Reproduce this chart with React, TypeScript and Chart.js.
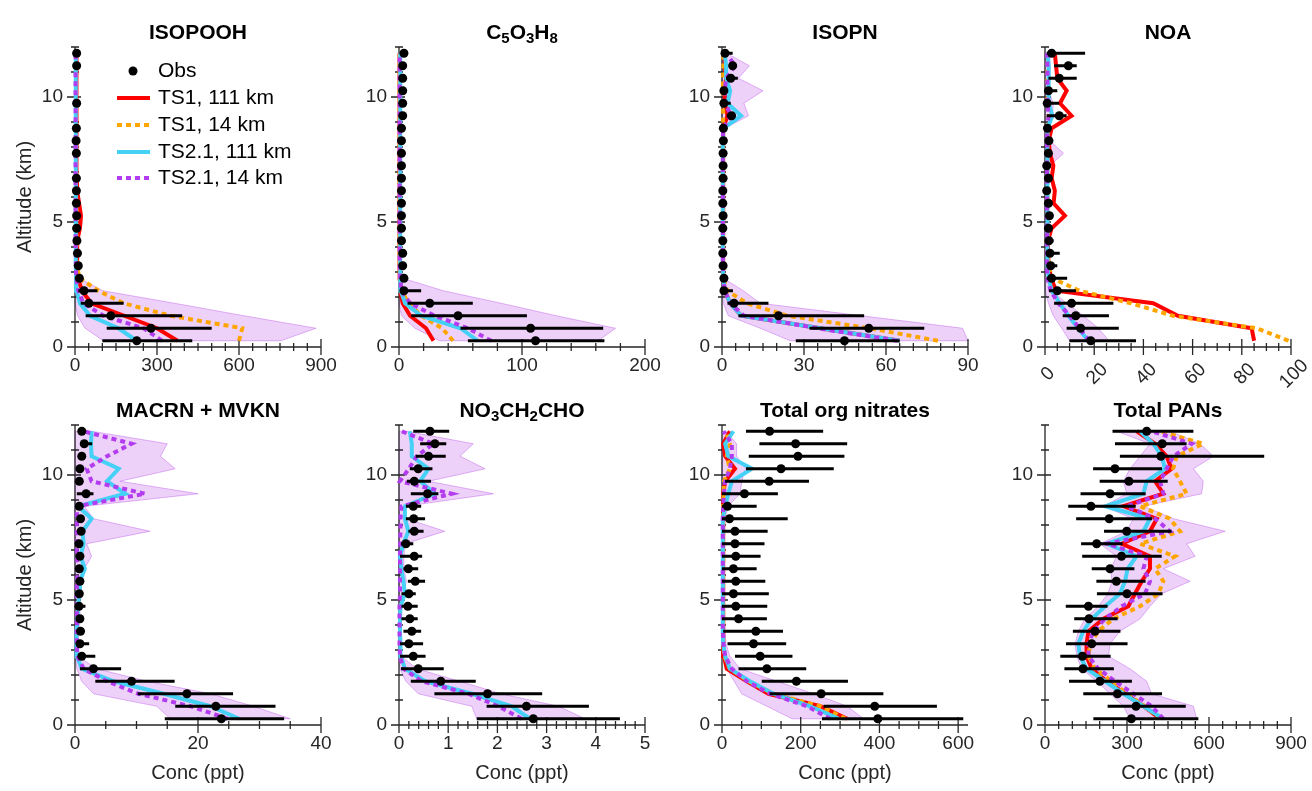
import React, { useEffect, useRef } from 'react';
import { Chart, registerables } from 'chart.js';

Chart.register(...registerables);

// ---------- shared axes ----------
const ALT = [0.25, 0.75, 1.25, 1.75, 2.25, 2.75, 3.25, 3.75, 4.25, 4.75, 5.25, 5.75, 6.25, 6.75, 7.25, 7.75, 8.25, 8.75, 9.25, 9.75, 10.25, 10.75, 11.25, 11.75];
const Y_TICKS = [0, 1, 2, 3, 4, 5, 6, 7, 8, 9, 10, 11, 12];
const Y_LABELS = [0, 5, 10];
const LEGEND_LABELS = ['Obs', 'TS1, 111 km', 'TS1, 14 km', 'TS2.1, 111 km', 'TS2.1, 14 km'];

// x tick labels per panel
const ISOPOOH_XLABELS = [0, 300, 600, 900];
const C5_XLABELS = [0, 100, 200];
const ISOPN_XLABELS = [0, 30, 60, 90];
const NOA_XLABELS = [0, 20, 40, 60, 80, 100];
const MAC_XLABELS = [0, 20, 40];
const NO3_XLABELS = [0, 1, 2, 3, 4, 5];
const ORG_XLABELS = [0, 200, 400, 600];
const PAN_XLABELS = [0, 300, 600, 900];

// ---------- ISOPOOH ----------
const ISOPOOH_OBS = [226, 278, 131, 51, 33, 16, 12, 9, 7, 6, 6, 5, 5, 5, null, 5, 4, 5, null, 6, null, null, 6, 6];
const ISOPOOH_LO = [100, 116, 39, 21, 12, 10, 8, 6, 5, 4, 4, 3, 3, 3, null, 3, 3, 3, null, 4, null, null, 4, 4];
const ISOPOOH_HI = [429, 500, 392, 178, 82, 24, 16, 12, 9, 8, 8, 7, 7, 7, null, 7, 6, 7, null, 8, null, null, 8, 8];
const ISOPOOH_TS1_111 = [375, 300, 180, 60, 25, 12, 9, 8, 8, 18, 22, 15, 8, 7, 6, 6, 5, 5, 5, 5, 6, 5, 5, 5];
const ISOPOOH_TS1_14 = [600, 612, 349, 178, 86, 16, 8, 6, 5, 5, 5, 5, 4, 4, 4, 4, 4, 4, 4, 4, 4, 4, 4, 4];
const ISOPOOH_TS2_111 = [226, 159, 55, 18, 6, 4, 3, 3, 3, 3, 3, 3, 3, 3, 3, 3, 3, 3, 3, 3, 3, 3, 3, 3];
const ISOPOOH_TS2_14 = [318, 251, 104, 31, 12, 5, 3, 3, 2, 2, 2, 2, 2, 2, 2, 2, 2, 2, 2, 2, 2, 2, 2, 2];
const ISOPOOH_BAND_LO = [104, 37, 9, 1, 0, 0, 0, 0, 0, 0, 0, 0, 0, 0, 0, 0, 0, 0, 0, 0, 0, 0, 0, 0];
const ISOPOOH_BAND_HI = [753, 882, 618, 364, 102, 15, 8, 6, 5, 5, 5, 5, 5, 5, 5, 5, 5, 5, 5, 5, 5, 5, 5, 5];

// ---------- C5O3H8 ----------
const C5_OBS = [111, 107, 48, 25, 4, 4, 3, 3, 2, 2, 2, 2, 2, 2, 2, 2, 2, 2, 3, 3, 3, 3, 3, 4];
const C5_LO = [56, 50, 10, 7, 1, 3, 2, 2, 1, 1, 1, 1, 1, 1, 1, 1, 1, 1, 2, 2, 2, 2, 2, 3];
const C5_HI = [167, 166, 104, 60, 18, 5, 4, 4, 3, 3, 3, 3, 3, 3, 3, 3, 3, 3, 4, 4, 4, 4, 4, 5];
const C5_TS1_111 = [28, 22, 9, 3, 1, 0.8, 0.5, 0.5, 0.5, 0.5, 0.5, 0.5, 0.5, 0.5, 0.5, 0.5, 0.5, 0.5, 0.5, 0.5, 0.5, 0.5, 0.5, 0.5];
const C5_TS1_14 = [44, 35, 18, 8, 2, 1, 0.5, 0.5, 0.5, 0.5, 0.5, 0.5, 0.5, 0.5, 0.5, 0.5, 0.5, 0.5, 0.5, 0.5, 0.5, 0.5, 0.5, 0.5];
const C5_TS2_111 = [64, 50, 18, 5, 1.5, 1, 1, 1, 1, 1, 1, 1, 1, 1, 1, 1, 1, 1, 1, 1, 1, 1, 1, 1];
const C5_TS2_14 = [75, 56, 29, 9, 2, 1, 0.5, 0.5, 0.5, 0.5, 0.5, 0.5, 0.5, 0.5, 0.5, 0.5, 0.5, 0.5, 0.5, 0.5, 0.5, 0.5, 0.5, 0.5];
const C5_BAND_LO = [33, 13, 2, 0, 0, 0, 0, 0, 0, 0, 0, 0, 0, 0, 0, 0, 0, 0, 0, 0, 0, 0, 0, 0];
const C5_BAND_HI = [162, 176, 128, 83, 36, 3, 1.5, 1.5, 1.5, 1.5, 1.5, 1.5, 1.5, 1.5, 1.5, 1.5, 1.5, 1.5, 1.5, 1.5, 1.5, 1.5, 1.5, 1.5];

// ---------- ISOPN ----------
const ISOPN_OBS = [44.8, 53.7, 20.7, 4.4, 0.7, 0.7, 0.4, 0.3, 0.3, 0.3, 0.4, 0.3, 0.3, 0.4, 0.4, 0.4, 0.5, 0.5, 3.5, 0.7, 0.7, 3.2, 3.9, 1.1];
const ISOPN_LO = [27, 32, 6, 2, 0, 0.2, 0.1, 0.1, 0.1, 0.1, 0.1, 0.1, 0.1, 0.1, 0.1, 0.1, 0.2, 0.2, 1.7, 0.1, 0.2, 1.5, 2.5, 0.3];
const ISOPN_HI = [65, 74, 52, 17, 4, 1.5, 0.8, 0.6, 0.6, 0.6, 0.8, 0.6, 0.6, 0.8, 0.8, 0.8, 0.9, 0.9, 4.8, 3.2, 1.4, 5.8, 5.5, 3.9];
const ISOPN_TS1_111 = [65, 36, 7, 3, 1, 0.5, 0.5, 0.4, 0.4, 0.4, 0.4, 0.4, 0.4, 0.4, 0.4, 0.4, 0.5, 0.6, 2, 1, 1, 1.5, 1, 1];
const ISOPN_TS1_14 = [79, 54, 24, 9, 2, 0.5, 0.3, 0.3, 0.3, 0.3, 0.3, 0.3, 0.3, 0.3, 0.3, 0.3, 0.3, 0.3, 0.5, 0.3, 0.3, 0.4, 0.5, 0.5];
const ISOPN_TS2_111 = [65, 36, 7, 3, 1, 0.5, 0.3, 0.3, 0.3, 0.3, 0.3, 0.3, 0.3, 0.3, 0.3, 0.3, 0.3, 0.5, 7, 2, 3, 1.5, 1.5, 1];
const ISOPN_TS2_14 = [64, 35, 8, 3, 1, 0.5, 0.3, 0.3, 0.3, 0.3, 0.3, 0.3, 0.3, 0.3, 0.3, 0.3, 0.3, 0.4, 3.5, 1, 1, 1.5, 4.8, 1.5];
const ISOPN_BAND_LO = [25, 14, 2.3, 0.5, 0, 0, 0, 0, 0, 0, 0, 0, 0, 0, 0, 0, 0, 0, 0, 0, 0, 0, 0, 0];
const ISOPN_BAND_HI = [90, 88, 51, 14, 7.8, 0.5, 0.4, 0.4, 0.4, 0.4, 0.4, 0.4, 0.4, 0.4, 0.4, 0.4, 0.5, 1, 9.7, 8, 15, 6, 10, 1.7];

// ---------- NOA ----------
const NOA_OBS = [18.6, 14.5, 12.5, 10.8, 5, 2.7, 2.3, 2, 1.6, 1.4, 1.8, 1.4, 0.7, 1.4, 0.7, 1.4, 1.6, 1, 5.8, 0.9, 1.4, 5.8, 9.5, 2.7];
const NOA_LO = [9.9, 8.8, 7.2, 3.7, 1.6, 0.7, 0.7, 0.7, 0.8, 0.8, 1, 0.8, 0.3, 0.8, 0.3, 0.8, 0.8, 0.5, 0.7, 0, 0, 1.4, 3.7, 0.7];
const NOA_HI = [37, 30, 26, 27.8, 12.6, 9, 5, 6, 3.5, 2, 2.5, 2, 1.2, 2, 1.2, 2, 2.4, 1.5, 8.8, 5.8, 5, 12.9, 12.9, 16.3];
const NOA_TS1_111 = [85, 84, 54, 44, 4.5, 2.5, 1.5, 1.2, 1.2, 2.7, 8.1, 3.5, 4, 2.7, 3.4, 2, 1.5, 2.7, 10.8, 6.1, 8.8, 5, 4.5, 4];
const NOA_TS1_14 = [99, 86, 52, 35, 14, 3, 1.5, 1.2, 1, 1, 1, 1, 1, 1, 1, 1, 1, 1, 1.5, 1, 1, 1, 1, 1.5];
const NOA_TS2_111 = [17.6, 13.5, 9.5, 6, 2.7, 1.5, 1, 1, 1, 1, 1, 1, 1, 1, 1, 1, 1, 1, 3, 1.5, 1.5, 1.5, 1.5, 1];
const NOA_TS2_14 = [18, 14, 10, 5.4, 2.3, 1, 0.8, 0.8, 0.8, 0.8, 0.8, 0.8, 0.8, 0.8, 0.8, 0.8, 0.8, 0.8, 1.5, 1, 1, 1, 1, 0.8];
const NOA_BAND_LO = [10, 6.8, 3.4, 1.4, 0, 0, 0, 0, 0, 0, 0, 0, 0, 0, 0, 0, 0, 0, 0, 0, 0, 0, 0, 0];
const NOA_BAND_HI = [26, 21.7, 15.6, 8.8, 2.7, 1.5, 1, 1, 1, 1, 1, 1, 1, 1, 2, 7.5, 2, 1.5, 3, 3.4, 1.5, 2, 2, 2];

// ---------- MACRN + MVKN ----------
const MAC_OBS = [23.8, 22.9, 18.2, 9.2, 3, 1.1, 0.8, 0.9, 0.8, 0.65, 0.7, 0.8, 0.7, 0.8, 0.65, 1, 0.9, 0.7, 1.8, 0.7, 0.8, 1.1, 1.5, 1.1];
const MAC_LO = [14.6, 16.3, 10.2, 3.3, 0.8, 0.5, 0.5, 0.6, 0.5, 0.4, 0.5, 0.5, 0.5, 0.5, 0.4, 0.7, 0.6, 0.5, 0.3, 0.5, 0.5, 0.8, 1.1, 0.8];
const MAC_HI = [34, 32.6, 25.7, 16.2, 7.5, 3.3, 2.3, 1.2, 1.1, 1.7, 1, 1.1, 1, 1.1, 0.9, 1.3, 1.2, 1, 3, 1, 1.1, 1.4, 2.8, 1.4];
const MAC_TS2_111 = [26.7, 22, 14.4, 6.3, 1.1, 0.3, 0.2, 0.3, 0.4, 0.5, 0.7, 0.8, 1.6, 0.9, 1.4, 1.2, 2.7, 0.5, 8.2, 5.2, 7.1, 2.7, 2.6, 2.7];
const MAC_TS2_14 = [24.8, 18.8, 10.3, 5.2, 1.4, 0.4, 0.3, 0.3, 0.3, 0.3, 0.3, 0.3, 0.5, 0.3, 0.3, 0.3, 0.3, 0.3, 11.4, 2.7, 1.9, 5.2, 9.2, 1.4];
const MAC_BAND_LO = [15.5, 13.3, 3, 1.1, 0.3, 0, 0, 0, 0, 0, 0, 0, 0, 0, 0, 0, 0, 0, 0, 0, 0, 0, 0, 0];
const MAC_BAND_HI = [35, 29, 22, 11.7, 3.5, 0.5, 0.5, 0.6, 0.8, 0.8, 1, 1, 1.5, 2.7, 1.9, 12.2, 3, 1.5, 20, 7.3, 16.3, 13.9, 15, 2.7];

// ---------- NO3CH2CHO ----------
const NO3_OBS = [2.73, 2.59, 1.8, 0.85, 0.39, 0.29, 0.2, 0.26, 0.22, 0.18, 0.2, 0.33, 0.19, 0.31, 0.14, 0.31, 0.3, 0.29, 0.58, 0.31, 0.39, 0.6, 0.73, 0.63];
const NO3_LO = [1.58, 1.78, 0.72, 0.24, 0.04, 0.02, 0.02, 0.09, 0.05, 0.05, 0.05, 0.18, 0.09, 0.02, 0.04, 0.19, 0.14, 0.14, 0.24, 0.16, 0.22, 0.34, 0.43, 0.29];
const NO3_HI = [4.49, 3.86, 2.91, 1.56, 0.91, 0.54, 0.49, 0.45, 0.38, 0.38, 0.34, 0.53, 0.39, 0.47, 0.29, 0.5, 0.53, 0.45, 0.8, 0.65, 0.68, 0.95, 0.96, 1.02];
const NO3_TS2_111 = [2.66, 2.29, 1.48, 0.53, 0.12, 0.04, 0.03, 0.02, 0.02, 0.03, 0.12, 0.09, 0.05, 0.02, 0.09, 0.19, 0.12, 0.12, 0.73, 0.43, 0.6, 0.26, 0.26, 0.22];
const NO3_TS2_14 = [2.49, 2.02, 1.41, 0.46, 0.09, 0.02, 0.01, 0.01, 0.01, 0.01, 0.02, 0.02, 0.02, 0.02, 0.02, 0.03, 0.03, 0.05, 1.07, 0.02, 0.2, 0.36, 0.7, 0.05];
const NO3_BAND_LO = [1.58, 1.48, 0.39, 0.14, 0.02, 0, 0, 0, 0, 0, 0, 0, 0, 0, 0, 0, 0, 0, 0, 0, 0, 0, 0, 0];
const NO3_BAND_HI = [3.78, 3.24, 2.07, 1.23, 0.36, 0.05, 0.05, 0.05, 0.05, 0.06, 0.1, 0.15, 0.1, 0.1, 0.12, 0.93, 0.15, 0.12, 1.92, 0.6, 1.75, 1.24, 1.51, 0.15];

// ---------- Total org nitrates ----------
const ORG_OBS = [396, 388, 252, 189, 114, 97, 80, 86, 42, 35, 29, 35, 29, 35, 33, 33, 19, 14, 57, 120, 150, 193, 187, 121];
const ORG_LO = [254, 258, 121, 101, 42, 33, 14, 3, 0, 0, 0, 0, 0, 0, 0, 0, 0, 0, 0, 8, 61, 68, 95, 61];
const ORG_HI = [613, 546, 410, 320, 214, 179, 163, 155, 114, 115, 119, 110, 88, 98, 108, 116, 167, 88, 142, 221, 284, 311, 318, 257];
const ORG_TS1_111 = [318, 250, 118, 63, 12, 5, 3, 3, 3, 3, 3, 3, 3, 3, 3, 3, 3, 3, 3, 8, 33, 8, 3, 20];
const ORG_TS1_14 = [314, 250, 131, 67, 20, 6, 3, 3, 3, 3, 3, 3, 3, 3, 3, 3, 3, 3, 4, 5, 20, 12, 20, 10];
const ORG_TS2_111 = [297, 224, 131, 71, 20, 8, 3, 2, 2, 2, 2, 2, 2, 2, 2, 2, 2, 8, 16, 25, 76, 16, 8, 29];
const ORG_TS2_14 = [275, 216, 122, 63, 25, 8, 4, 2, 2, 2, 2, 2, 2, 2, 2, 2, 2, 3, 5, 8, 20, 25, 25, 4];
const ORG_BAND_LO = [178, 114, 50, 31, 12, 3, 0, 0, 0, 0, 0, 0, 0, 0, 0, 0, 0, 0, 0, 0, 0, 0, 0, 0];
const ORG_BAND_HI = [360, 318, 233, 139, 46, 20, 10, 8, 6, 6, 6, 6, 6, 6, 6, 6, 8, 15, 46, 50, 60, 37, 37, 10];

// ---------- Total PANs ----------
const PAN_OBS = [316, 333, 265, 201, 139, 137, 171, 183, 161, 159, 300, 261, 238, 280, 189, 299, 235, 168, 238, 307, 256, 424, 429, 372];
const PAN_LO = [177, 229, 140, 88, 71, 56, 77, 102, 107, 76, 190, 188, 171, 136, 132, 216, 114, 85, 130, 200, 176, 274, 256, 247];
const PAN_HI = [561, 515, 428, 318, 252, 240, 302, 276, 266, 229, 430, 368, 327, 427, 284, 463, 392, 332, 368, 449, 428, 802, 518, 543];
const PAN_TS1_111 = [421, 360, 293, 226, 171, 152, 152, 159, 214, 305, 329, 354, 384, 384, 281, 384, 409, 287, 433, 403, 463, 445, 403, 336];
const PAN_TS1_14 = [421, 366, 299, 244, 183, 159, 165, 195, 250, 348, 415, 433, 403, 476, 348, 494, 457, 348, 518, 494, 469, 482, 579, 421];
const PAN_TS2_111 = [433, 360, 287, 220, 152, 128, 122, 140, 171, 220, 274, 293, 302, 335, 226, 360, 384, 220, 360, 372, 439, 427, 396, 348];
const PAN_TS2_14 = [433, 390, 323, 256, 195, 159, 159, 177, 220, 281, 366, 384, 360, 372, 226, 457, 403, 299, 433, 421, 445, 470, 537, 390];
const PAN_BAND_LO = [311, 287, 238, 189, 134, 116, 110, 122, 146, 195, 230, 245, 240, 262, 201, 299, 323, 214, 299, 287, 311, 348, 384, 262];
const PAN_BAND_HI = [555, 543, 390, 372, 311, 232, 238, 274, 348, 384, 427, 531, 433, 549, 518, 659, 470, 360, 573, 579, 543, 616, 567, 457];

// ---------- styles ----------
const FONT = '"Liberation Sans", Arial, Helvetica, sans-serif';
const TEXT = '#262626';
const AXIS = '#262626';
const BAND_FILL = 'rgba(190, 90, 235, 0.28)';
const BAND_EDGE = 'rgba(190, 90, 235, 0.45)';
const MODEL_STYLES = [
  { color: '#FF0000', dash: [] as number[] },
  { color: '#FFA500', dash: [5, 4] },
  { color: '#45D0F5', dash: [] as number[] },
  { color: '#B43CF0', dash: [5, 4] },
];
const COL_LEFT = [75, 399, 722, 1045];
const ROW_TOP = [47, 425];
const PLOT_W = 246;
const PLOT_H = 300;
const PAD_L = 70;
const PAD_T = 45;
const PAD_R = 30;
const PAD_B = 60;

type Panel = {
  title: string;
  col: number;
  row: number;
  max: number;
  major: number;
  minor: number;
  xLabels: number[];
  obs: (number | null)[];
  lo: (number | null)[];
  hi: (number | null)[];
  models: (number[] | null)[];
  bandLo: number[];
  bandHi: number[];
  legend?: boolean;
  rotated?: boolean;
};

const PANELS: Panel[] = [
  { title: 'ISOPOOH', col: 0, row: 0, max: 900, major: 300, minor: 50, xLabels: ISOPOOH_XLABELS, obs: ISOPOOH_OBS, lo: ISOPOOH_LO, hi: ISOPOOH_HI, models: [ISOPOOH_TS1_111, ISOPOOH_TS1_14, ISOPOOH_TS2_111, ISOPOOH_TS2_14], bandLo: ISOPOOH_BAND_LO, bandHi: ISOPOOH_BAND_HI, legend: true },
  { title: 'C_5O_3H_8', col: 1, row: 0, max: 200, major: 100, minor: 20, xLabels: C5_XLABELS, obs: C5_OBS, lo: C5_LO, hi: C5_HI, models: [C5_TS1_111, C5_TS1_14, C5_TS2_111, C5_TS2_14], bandLo: C5_BAND_LO, bandHi: C5_BAND_HI },
  { title: 'ISOPN', col: 2, row: 0, max: 90, major: 30, minor: 5, xLabels: ISOPN_XLABELS, obs: ISOPN_OBS, lo: ISOPN_LO, hi: ISOPN_HI, models: [ISOPN_TS1_111, ISOPN_TS1_14, ISOPN_TS2_111, ISOPN_TS2_14], bandLo: ISOPN_BAND_LO, bandHi: ISOPN_BAND_HI },
  { title: 'NOA', col: 3, row: 0, max: 100, major: 20, minor: 5, xLabels: NOA_XLABELS, obs: NOA_OBS, lo: NOA_LO, hi: NOA_HI, models: [NOA_TS1_111, NOA_TS1_14, NOA_TS2_111, NOA_TS2_14], bandLo: NOA_BAND_LO, bandHi: NOA_BAND_HI, rotated: true },
  { title: 'MACRN + MVKN', col: 0, row: 1, max: 40, major: 20, minor: 5, xLabels: MAC_XLABELS, obs: MAC_OBS, lo: MAC_LO, hi: MAC_HI, models: [null, null, MAC_TS2_111, MAC_TS2_14], bandLo: MAC_BAND_LO, bandHi: MAC_BAND_HI },
  { title: 'NO_3CH_2CHO', col: 1, row: 1, max: 5, major: 1, minor: 0.2, xLabels: NO3_XLABELS, obs: NO3_OBS, lo: NO3_LO, hi: NO3_HI, models: [null, null, NO3_TS2_111, NO3_TS2_14], bandLo: NO3_BAND_LO, bandHi: NO3_BAND_HI },
  { title: 'Total org nitrates', col: 2, row: 1, max: 625, major: 200, minor: 50, xLabels: ORG_XLABELS, obs: ORG_OBS, lo: ORG_LO, hi: ORG_HI, models: [ORG_TS1_111, ORG_TS1_14, ORG_TS2_111, ORG_TS2_14], bandLo: ORG_BAND_LO, bandHi: ORG_BAND_HI },
  { title: 'Total PANs', col: 3, row: 1, max: 900, major: 300, minor: 50, xLabels: PAN_XLABELS, obs: PAN_OBS, lo: PAN_LO, hi: PAN_HI, models: [PAN_TS1_111, PAN_TS1_14, PAN_TS2_111, PAN_TS2_14], bandLo: PAN_BAND_LO, bandHi: PAN_BAND_HI },
];

function parseTitle(t: string) {
  const parts: { text: string; sub: boolean }[] = [];
  for (let i = 0; i < t.length; i++) {
    if (t[i] === '_' && i + 1 < t.length) {
      parts.push({ text: t[i + 1], sub: true });
      i++;
    } else {
      const last = parts[parts.length - 1];
      if (last && !last.sub) last.text += t[i];
      else parts.push({ text: t[i], sub: false });
    }
  }
  return parts;
}

function makePlugin(p: Panel) {
  return {
    id: 'profile',
    beforeDatasetsDraw(chart: any) {
      const { ctx, chartArea: a } = chart;
      const x = chart.scales.x;
      const y = chart.scales.y;
      ctx.save();
      // model spread band
      ctx.beginPath();
      ALT.forEach((h, i) => {
        const px = x.getPixelForValue(p.bandHi[i]);
        const py = y.getPixelForValue(h);
        if (i === 0) ctx.moveTo(px, py);
        else ctx.lineTo(px, py);
      });
      for (let i = ALT.length - 1; i >= 0; i--) {
        ctx.lineTo(x.getPixelForValue(p.bandLo[i]), y.getPixelForValue(ALT[i]));
      }
      ctx.closePath();
      ctx.fillStyle = BAND_FILL;
      ctx.fill();
      ctx.strokeStyle = BAND_EDGE;
      ctx.lineWidth = 1;
      ctx.stroke();

      // axes
      ctx.strokeStyle = AXIS;
      ctx.lineWidth = 1.3;
      ctx.beginPath();
      ctx.moveTo(a.left, a.top);
      ctx.lineTo(a.left, a.bottom);
      ctx.lineTo(a.right, a.bottom);
      for (const v of Y_TICKS) {
        const py = y.getPixelForValue(v);
        const major = v % 5 === 0;
        ctx.moveTo(a.left - (major ? 8 : 4), py);
        ctx.lineTo(a.left + (major ? 6 : 4), py);
      }
      const n = Math.round(p.max / p.minor);
      for (let k = 0; k <= n; k++) {
        const v = k * p.minor;
        if (v > p.max + 1e-9) break;
        const px = x.getPixelForValue(v);
        const ratio = v / p.major;
        const major = Math.abs(ratio - Math.round(ratio)) < 1e-6;
        ctx.moveTo(px, a.bottom - (major ? 8 : 4));
        ctx.lineTo(px, a.bottom + (major ? 8 : 4));
      }
      ctx.stroke();
      ctx.restore();
    },
    beforeDatasetDraw(chart: any, args: any) {
      const ds = chart.data.datasets[args.index];
      if (ds.label !== 'Obs') return;
      const { ctx } = chart;
      const x = chart.scales.x;
      const y = chart.scales.y;
      ctx.save();
      ctx.strokeStyle = '#000';
      ctx.lineWidth = 3;
      ctx.beginPath();
      ALT.forEach((h, i) => {
        if (p.obs[i] == null || p.lo[i] == null || p.hi[i] == null) return;
        const py = y.getPixelForValue(h);
        ctx.moveTo(x.getPixelForValue(p.lo[i]), py);
        ctx.lineTo(x.getPixelForValue(p.hi[i]), py);
      });
      ctx.stroke();
      ctx.restore();
    },
    afterDraw(chart: any) {
      const { ctx, chartArea: a } = chart;
      const x = chart.scales.x;
      ctx.save();
      // title with subscripts
      const parts = parseTitle(p.title);
      const big = `bold 21px ${FONT}`;
      const small = `bold 15px ${FONT}`;
      let total = 0;
      parts.forEach((pt) => {
        ctx.font = pt.sub ? small : big;
        total += ctx.measureText(pt.text).width;
      });
      let cx = (a.left + a.right) / 2 - total / 2;
      const ty = a.top - 14;
      ctx.fillStyle = '#000';
      ctx.textBaseline = 'middle';
      ctx.textAlign = 'left';
      parts.forEach((pt) => {
        ctx.font = pt.sub ? small : big;
        ctx.fillText(pt.text, cx, pt.sub ? ty + 6 : ty);
        cx += ctx.measureText(pt.text).width;
      });

      // rotated tick labels (NOA)
      if (p.rotated) {
        ctx.font = `19px ${FONT}`;
        ctx.fillStyle = TEXT;
        ctx.textAlign = 'center';
        ctx.textBaseline = 'middle';
        p.xLabels.forEach((v) => {
          ctx.save();
          ctx.translate(x.getPixelForValue(v) + 3, a.bottom + 27);
          ctx.rotate(-Math.PI / 4);
          ctx.fillText(String(v), 0, 0);
          ctx.restore();
        });
      }

      // legend
      if (p.legend) {
        const rows = [24, 51, 78, 105, 131];
        ctx.font = `21px ${FONT}`;
        ctx.textAlign = 'left';
        ctx.textBaseline = 'middle';
        ctx.fillStyle = '#000';
        ctx.beginPath();
        ctx.arc(a.left + 58, a.top + rows[0], 4.5, 0, Math.PI * 2);
        ctx.fill();
        ctx.fillText(LEGEND_LABELS[0], a.left + 83, a.top + rows[0]);
        MODEL_STYLES.forEach((s, k) => {
          const yy = a.top + rows[k + 1];
          ctx.beginPath();
          ctx.setLineDash(s.dash);
          ctx.lineCap = 'butt';
          ctx.strokeStyle = s.color;
          ctx.lineWidth = 4;
          ctx.moveTo(a.left + 42, yy);
          ctx.lineTo(a.left + 75, yy);
          ctx.stroke();
          ctx.setLineDash([]);
          ctx.fillStyle = '#000';
          ctx.fillText(LEGEND_LABELS[k + 1], a.left + 83, yy);
        });
      }
      ctx.restore();
    },
  };
}

function buildConfig(p: Panel): any {
  const datasets: any[] = [];
  p.models.forEach((m, k) => {
    if (!m) return;
    const s = MODEL_STYLES[k];
    datasets.push({
      label: LEGEND_LABELS[k + 1],
      data: ALT.map((h, i) => ({ x: m[i], y: h })),
      showLine: true,
      borderColor: s.color,
      backgroundColor: s.color,
      borderWidth: 4,
      borderDash: s.dash,
      borderCapStyle: 'butt',
      borderJoinStyle: 'miter',
      pointRadius: 0,
      fill: false,
      clip: false,
      order: 4 - k,
    });
  });
  datasets.push({
    label: 'Obs',
    data: ALT.map((h, i) => (p.obs[i] == null ? null : { x: p.obs[i], y: h })).filter((d) => d !== null),
    showLine: false,
    pointRadius: 4.5,
    pointBackgroundColor: '#000',
    pointBorderWidth: 0,
    borderColor: '#000',
    clip: false,
    order: 0,
  });
  const tickFont = { family: FONT, size: 19 };
  const titleFont = { family: FONT, size: 20 };
  return {
    type: 'scatter',
    data: { datasets },
    plugins: [makePlugin(p)],
    options: {
      responsive: false,
      animation: false,
      events: [],
      layout: { padding: { top: PAD_T, right: PAD_R, bottom: 0, left: 0 } },
      plugins: { legend: { display: false }, tooltip: { enabled: false }, title: { display: false } },
      scales: {
        x: {
          type: 'linear',
          min: 0,
          max: p.max,
          grid: { display: false, drawTicks: false },
          border: { display: false },
          afterBuildTicks: (s: any) => {
            s.ticks = p.xLabels.map((v) => ({ value: v }));
          },
          ticks: {
            display: !p.rotated,
            autoSkip: false,
            maxRotation: 0,
            minRotation: 0,
            padding: 7,
            color: TEXT,
            font: tickFont,
          },
          title: {
            display: p.row === 1,
            text: 'Conc (ppt)',
            color: TEXT,
            font: titleFont,
            padding: { top: 0, bottom: 0 },
          },
          afterFit: (s: any) => {
            s.height = PAD_B;
          },
        },
        y: {
          type: 'linear',
          min: 0,
          max: 12,
          grid: { display: false, drawTicks: false },
          border: { display: false },
          afterBuildTicks: (s: any) => {
            s.ticks = Y_LABELS.map((v) => ({ value: v }));
          },
          ticks: {
            autoSkip: false,
            padding: 12,
            color: TEXT,
            font: tickFont,
          },
          title: {
            display: p.col === 0,
            text: 'Altitude (km)',
            color: TEXT,
            font: titleFont,
            padding: { top: 8, bottom: 0 },
          },
          afterFit: (s: any) => {
            s.width = PAD_L;
          },
        },
      },
    },
  };
}

function ProfilePanel({ p }: { p: Panel }) {
  const ref = useRef<HTMLCanvasElement>(null);
  useEffect(() => {
    if (!ref.current) return;
    const chart = new Chart(ref.current, buildConfig(p));
    return () => chart.destroy();
  }, [p]);
  const w = PAD_L + PLOT_W + PAD_R;
  const h = PAD_T + PLOT_H + PAD_B;
  return (
    <canvas
      ref={ref}
      width={w}
      height={h}
      style={{
        position: 'absolute',
        left: COL_LEFT[p.col] - PAD_L,
        top: ROW_TOP[p.row] - PAD_T,
        width: w,
        height: h,
      }}
    />
  );
}

export default function App() {
  return (
    <div style={{ position: 'absolute', left: 0, top: 0, width: 1312, height: 791, background: '#ffffff', overflow: 'hidden' }}>
      {PANELS.map((p) => (
        <ProfilePanel key={p.title} p={p} />
      ))}
    </div>
  );
}
